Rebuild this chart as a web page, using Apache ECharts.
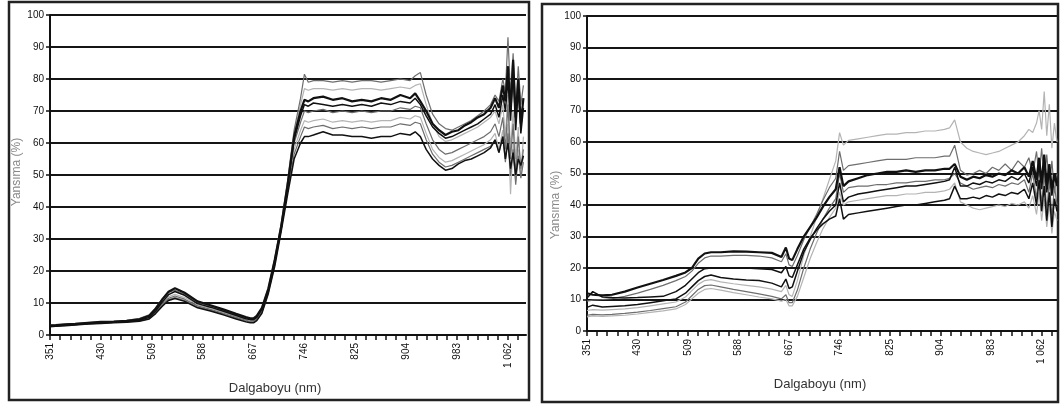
<!DOCTYPE html>
<html><head><meta charset="utf-8">
<script src="https://cdn.jsdelivr.net/npm/echarts@6/dist/echarts.min.js"></script>
<style>html,body{margin:0;padding:0;background:#fff}#c{width:1060px;height:410px}</style>
</head><body><div id="c"></div>
<script>
// Wavelengths (nm) shared by all series
const WL = [351,360,375,390,410,430,450,470,490,505,515,525,535,545,560,580,600,620,640,655,662,667,672,680,690,700,710,720,730,740,746,752,760,775,790,805,820,835,850,865,880,895,910,918,926,935,945,955,965,975,985,995,1005,1015,1025,1035,1042,1048,1054,1058,1062,1066,1070,1074,1078,1082,1086];
const X_TICK_LABELS = [351,430,509,588,667,746,825,904,983,1062];
const Y_TICKS = [0,10,20,30,40,50,60,70,80,90,100];

// Left panel series
const L1 = [3.0,3.1,3.3,3.5,3.8,4.1,4.2,4.4,4.9,6.0,8.2,11.0,13.5,14.6,13.2,10.5,9.3,8.0,6.6,5.6,5.2,5.2,6.0,8.5,14.5,23.5,34,47,62,70,73.5,73,74,74.5,73.5,74,73,73.5,73,74,73.5,75,74,75.5,73,70,66,64,62.5,63.5,64,65.5,66.5,68,69,71,74,71,78,73,84,70,86,68,80,66,74];
const L2 = [2.8,2.9,3.1,3.3,3.6,3.9,4.0,4.2,4.6,5.5,7.5,10.2,12.6,13.6,12.4,9.8,8.7,7.4,6.1,5.1,4.8,4.8,5.5,8,14,23,33.5,46.5,61,68.5,72,71.5,72.5,72,71.5,72,71.5,72,71.5,72.5,72,73,72.5,74,72,68.5,65,63,61.5,62,63,64,65,66,67.5,69,72,68,75,70,80,67,82,64,77,63,71];
const L3 = [3.1,3.2,3.4,3.6,3.9,4.1,4.3,4.6,5.2,6.3,8.5,11.3,13.3,14.0,12.8,10.2,9.0,7.7,6.3,5.3,5.0,5.0,5.8,8.4,14.8,24,35,48.5,64,74,81.5,79,79.5,79.5,79,79.5,79,79.5,79.5,79,79.5,80,79.5,81,82,75,69,66,64.5,64,65,66,67,68.5,70,72,75,73,80,76,93,75,88,70,84,72,78];
const L4 = [2.9,3.0,3.2,3.4,3.7,3.9,4.1,4.3,4.8,5.7,7.6,10.1,12.0,12.7,11.7,9.5,8.4,7.1,5.8,4.9,4.6,4.6,5.3,7.8,14.2,23.4,34.5,48,63,72,77,76.5,77,77,76.5,77,76.5,77,77,76.5,77,77.5,77,78,78.5,72,66,62,60.5,61,62,63,64,65,66.5,68,70,66,72,62,75,58,70,55,65,50,62];
const L5 = [2.8,2.9,3.1,3.3,3.6,3.8,4.0,4.2,4.6,5.4,7.2,9.6,11.5,12.2,11.2,9.1,8.0,6.8,5.5,4.6,4.3,4.3,5.0,7.4,13.8,23,34,47,60,66.5,70,69.5,70,70.5,69.5,70,69.5,70,69.5,70,70,71,70.5,71.5,71,66,61,58,56.5,57,58,59,60,61,62,63.5,66,62,68,58,72,55,66,50,62,52,58];
const L6 = [2.7,2.8,3.0,3.2,3.5,3.7,3.9,4.1,4.5,5.2,7.0,9.3,11.2,11.8,10.9,8.8,7.8,6.6,5.3,4.4,4.1,4.1,4.8,7.2,13.5,22.5,33.5,46,58,64,67,66.5,67,67.5,66.5,67,66.5,67,66.5,67,67,68,67.5,68.5,68,63,58,55.5,54,54.5,55.5,56.5,57.5,58.5,59.5,61,63,58,64,55,66,44,60,48,58,50,56];
const L7 = [2.7,2.8,3.0,3.2,3.5,3.7,3.9,4.1,4.4,5.1,6.9,9.1,11.0,11.6,10.7,8.7,7.7,6.5,5.2,4.3,4.0,4.0,4.7,7.0,13.2,22,33,45,56.5,62,65,64.5,65,65.5,64.5,65,64.5,65,64.5,65,65,66,65.5,66.5,66,61,56.5,54,52.5,53,54,55,56,57,58,59,61,57,62,54,63,50,58,47,56,49,54];
const L8 = [2.6,2.7,2.9,3.1,3.4,3.6,3.8,4.0,4.3,5.0,6.7,8.9,10.8,11.4,10.5,8.5,7.5,6.3,5.0,4.1,3.8,3.8,4.5,6.8,13,21.5,32.5,44,55,60,62,62,62.5,63.5,62.5,62.5,62,62,61.5,62,62,63,62.5,63.5,62,58,55,53,51.5,52,53.5,54.5,55,56,57,58.5,61,57,62,55,60,52,57,50,55,53,56];

// Right panel series
const R1 = [12.0,11.5,11.3,11.5,12.5,13.8,15.0,16.2,17.5,18.6,20.0,23.0,24.6,25.0,25.0,25.3,25.2,25.0,24.8,23.5,26.5,23.0,22.5,26,30,33,36,39.5,42.5,45,52,46,47.5,48.5,49.5,50,50.5,50.5,51,50.5,51,51,51.5,51.5,53,49,48,49,48.5,49.5,49,50,49.5,51,50,52,49,54,48,55,47,56,46,53,45,50,47];
const R2 = [9.5,9.8,10.0,10.3,11.0,12.0,13.2,14.5,16.0,17.3,19.0,21.5,23.2,23.8,23.8,24.0,24.0,23.8,23.2,22.0,24.5,21.0,20.5,24,29,33,37,41.5,45.5,48.5,57,51,52.5,53,53.5,54,54.5,54.5,54.5,55,55,55,55.5,55.5,59,51,49.5,50,51,50,52,51,53,51,54,52,55,50,57,49,58,48,56,46,54,44,50];
const R3 = [7.5,8.2,7.6,7.8,8.0,8.4,9.0,9.6,10.2,12.0,14.0,16.0,17.3,17.8,17.0,16.5,16.2,16.0,15.2,14.0,16.5,13.5,14,19,25,29,32.5,35.5,38,40,47,41,42.5,43.5,44,44.5,45,45.5,46,46,46.5,47,47.5,48,52,46,46,47,46.5,47.5,47,48,47.5,49,48,50,47,52,46,53,45,54,44,51,43,49,46];
const R4 = [6.5,6.8,6.6,6.8,7.0,7.4,8.0,8.6,9.2,10.8,12.8,14.8,16.0,16.3,15.6,15.0,14.5,14.0,13.3,12.5,14.5,11.5,11,16,24,30,36,42,48,54,63,59,60.5,61,61.5,62,62.5,62.5,63,63,63.5,63.5,64,64.5,67,60,58,57,56.5,56,56.5,57,58,59,60,62,64,63,66,70,64,76,62,72,58,66,60];
const R5 = [5.0,5.3,5.1,5.3,5.6,6.0,6.5,7.1,7.7,9.2,11.2,13.2,14.4,14.6,14.0,13.2,12.5,11.8,11.0,10.2,11.5,9.0,9.0,13,20,26,31,35.5,39,42,50,44,45.5,46,46,46.5,46.5,47,47,47.5,47.5,48,48,48.5,50,47,46,45,45.5,46,45.5,46.5,46,47,46.5,48,44,50,42,52,40,50,38,48,36,46,40];
const R6 = [10.5,12.5,10.8,10.6,10.5,10.6,10.8,11.0,12.5,14.5,16.5,18.5,19.8,20.0,20.0,20.0,20.0,19.8,19.5,18.5,20.5,17.5,17,21,26,29.5,32,34,35.5,36.5,42,35.5,37,37.5,38,38.5,39,39.5,40,40,40.5,41,41.5,42,46,42,42,42.5,42,43,42.5,43.5,43,44,43.5,45,42,47,40,48,38,46,35,44,33,42,38];
const R7 = [4.5,4.8,4.6,4.8,5.0,5.4,5.9,6.4,7.0,8.4,10.2,12.0,13.2,13.5,13.0,12.2,11.5,10.8,10.2,9.5,10.0,8.0,8.0,11,17,23,28,32.5,36,39,44,40,41,41.5,42,42.5,43,43,43.5,43.5,44,44,44.5,45,47,41,40,39,38.5,39,39.5,40,39.5,40.5,40,41,39,43,37,44,35,42,33,40,31,38,35];

const FONT = 'Liberation Sans';
const BLACK = '#111', GRAY = '#6e6e6e', LIGHT = '#b4b4b4';

function pairs(arr){ return WL.map((w,i)=>[w, arr[i]]); }
function fmtX(v){ return v >= 1000 ? String(v).replace(/^(\d)(\d{3})$/,'$1 $2') : String(v); }
// minor tick positions: five per labelled interval
const X_MINOR = [];
for (let i=0;i<X_TICK_LABELS.length;i++){
  const a = X_TICK_LABELS[i], b = (i+1<X_TICK_LABELS.length)? X_TICK_LABELS[i+1] : a+79;
  for (let k=0;k<5;k++){ const t = a + (b-a)*k/5; if (t<=1088) X_MINOR.push(t); }
}

function xAxis(idx, max){
  return {
    type:'value', gridIndex:idx, min:351, max:max,
    axisLine:{show:true, onZero:false, lineStyle:{color:'#111', width:2}},
    axisTick:{show:true, inside:false, length:5, lineStyle:{color:'#111', width:1.5}, customValues:X_MINOR},
    axisLabel:{show:true, rotate:90, fontFamily:FONT, fontSize:10, color:'#111', margin:8,
      customValues:X_TICK_LABELS, formatter:fmtX},
    splitLine:{show:false}
  };
}
function yAxis(idx){
  return {
    type:'value', gridIndex:idx, min:0, max:100, interval:10,
    axisLine:{show:true, lineStyle:{color:'#111', width:2}},
    axisTick:{show:true, length:4, lineStyle:{color:'#111', width:1.5}},
    axisLabel:{fontFamily:FONT, fontSize:10, color:'#111', margin:6},
    splitLine:{show:true, lineStyle:{color:'#151515', width:2}}
  };
}
function line(name, arr, idx, color, width, z){
  return {name, type:'line', xAxisIndex:idx, yAxisIndex:idx, data:pairs(arr),
    showSymbol:false, symbol:'none', smooth:false, z:z||2,
    lineStyle:{color, width}, emphasis:{disabled:true}};
}

const chart = echarts.init(document.getElementById('c'), null, {renderer:'canvas'});
chart.setOption({
  animation:false,
  backgroundColor:'#fff',
  grid:[
    {left:50, top:15, width:476, height:320},
    {left:587, top:16, width:470, height:315}
  ],
  xAxis:[xAxis(0,1090), xAxis(1,1086)],
  yAxis:[yAxis(0), yAxis(1)],
  series:[
    line('L4', L4, 0, LIGHT, 1.2, 2),
    line('L6', L6, 0, LIGHT, 1.2, 2),
    line('L3', L3, 0, GRAY, 1.2, 3),
    line('L5', L5, 0, GRAY, 1.2, 3),
    line('L7', L7, 0, GRAY, 1.2, 3),
    line('L8', L8, 0, BLACK, 1.5, 4),
    line('L2', L2, 0, BLACK, 1.5, 4),
    line('L1', L1, 0, BLACK, 2.2, 5),
    line('R4', R4, 1, LIGHT, 1.2, 2),
    line('R7', R7, 1, LIGHT, 1.2, 2),
    line('R5', R5, 1, GRAY, 1.2, 3),
    line('R2', R2, 1, GRAY, 1.2, 3),
    line('R6', R6, 1, BLACK, 1.5, 4),
    line('R3', R3, 1, BLACK, 1.5, 4),
    line('R1', R1, 1, BLACK, 2.2, 5)
  ],
  graphic:[
    {type:'rect', shape:{x:9, y:2, width:520, height:398}, style:{fill:null, stroke:'#222', lineWidth:2.5}, silent:true},
    {type:'rect', shape:{x:542, y:4, width:516, height:398}, style:{fill:null, stroke:'#222', lineWidth:2.5}, silent:true},
    {type:'text', x:275, y:388, style:{text:'Dalgaboyu (nm)', fontFamily:FONT, fontSize:13, fill:'#333', align:'center', verticalAlign:'middle'}},
    {type:'text', x:820, y:384, style:{text:'Dalgaboyu (nm)', fontFamily:FONT, fontSize:13, fill:'#333', align:'center', verticalAlign:'middle'}},
    {type:'text', x:17, y:172, rotation:Math.PI/2, style:{text:'Yansıma (%)', fontFamily:FONT, fontSize:12, fill:'#888', align:'center', verticalAlign:'middle'}},
    {type:'text', x:556, y:205, rotation:Math.PI/2, style:{text:'Yansıma (%)', fontFamily:FONT, fontSize:12, fill:'#888', align:'center', verticalAlign:'middle'}}
  ]
});
</script></body></html>
